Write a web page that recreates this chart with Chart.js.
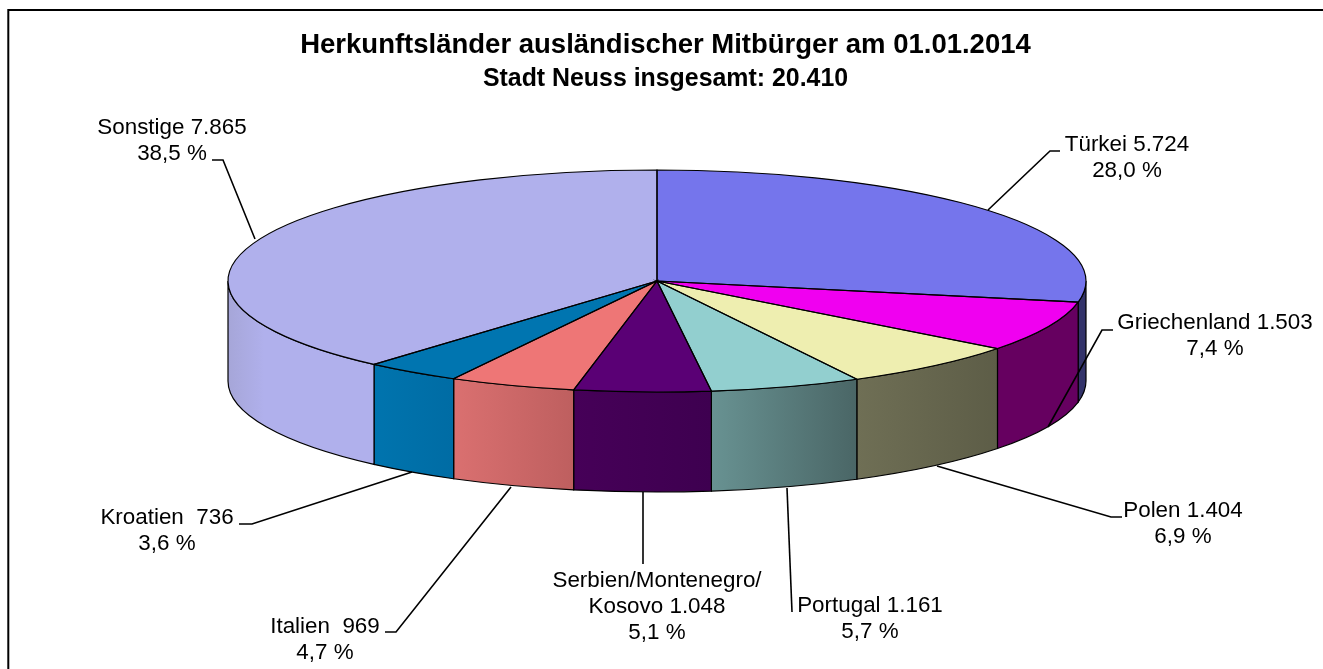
<!DOCTYPE html>
<html lang="de">
<head>
<meta charset="utf-8">
<title>Herkunftsländer</title>
<script src="https://cdn.jsdelivr.net/npm/chart.js@4"></script>
<style>
  html, body { margin: 0; background: #fff; overflow: hidden; }
  canvas { display: block; }
</style>
</head>
<body>
<canvas id="pie3d" width="1323" height="669"></canvas>
<script>
// --- DATA ---
const countries = ['Türkei', 'Griechenland', 'Polen', 'Portugal', 'Serbien/Montenegro/Kosovo', 'Italien', 'Kroatien', 'Sonstige'];
const residents = [5724, 1503, 1404, 1161, 1048, 969, 736, 7865];
const labelLines = [
  ['Türkei 5.724', '28,0 %'],
  ['Griechenland 1.503', '7,4 %'],
  ['Polen 1.404', '6,9 %'],
  ['Portugal 1.161', '5,7 %'],
  ['Serbien/Montenegro/', 'Kosovo 1.048', '5,1 %'],
  ['Italien  969', '4,7 %'],
  ['Kroatien  736', '3,6 %'],
  ['Sonstige 7.865', '38,5 %']
];
const chartTitle = 'Herkunftsländer ausländischer Mitbürger am 01.01.2014';
const chartSubtitle = 'Stadt Neuss insgesamt: 20.410';

// --- COLOURS ---
const topColors = ['#7575EC', '#F000F0', '#EEEEB0', '#92CFCF', '#5A0075', '#EE7676', '#0075B0', '#B0B0EC'];
const wallColors = [
  ['#33336A', '#33336A'],
  ['#660060', '#660060'],
  ['#6F6F55', '#5D5D47'],
  ['#689292', '#4A6666'],
  ['#460058', '#3E0050'],
  ['#DA7070', '#BE5F5F'],
  ['#0074AE', '#006CA4'],
  ['#A6A6D8', '#B0B0EC', '#B0B0EC', '#B0B0EC', '#B0B0EC']
];

// --- GEOMETRY OF THE TILTED PIE (screen pixels) ---
const pieX = 657;
const pieY = 281;
const pieRadius = 429;
const tilt = 111 / 429;
const wallHeight = 100;

// where the callouts sit: text centre x, first line y, leader polyline
const callouts = [
  { x: 1127, y: 145, line: [[988, 210], [1050, 151], [1060, 151]] },
  { x: 1215, y: 323, line: [[1048, 427], [1102, 330], [1113, 330]] },
  { x: 1183, y: 511, line: [[937, 466], [1111, 517], [1122, 517]] },
  { x: 870, y: 606, line: [[787, 488], [792, 612]] },
  { x: 657, y: 581, line: [[643, 492], [643, 564]] },
  { x: 325, y: 627, line: [[511, 487], [396, 632], [385, 632]] },
  { x: 167, y: 518, line: [[412, 472], [252, 524], [239, 524]] },
  { x: 172, y: 128, line: [[255, 239], [223, 160], [212, 160]] }
];

const tiltedPie = {
  id: 'tiltedPie',
  // the side walls go below the top face
  beforeDatasetsDraw(chart) {
    const ctx = chart.ctx;
    const ry = pieRadius * tilt;
    chart.getDatasetMeta(0).data.forEach((arc, i) => {
      const a1 = Math.max(arc.startAngle, 0);
      const a2 = Math.min(arc.endAngle, Math.PI);
      if (a2 <= a1) return;
      const x1 = pieX + pieRadius * Math.cos(a1);
      const x2 = pieX + pieRadius * Math.cos(a2);
      const grad = ctx.createLinearGradient(Math.min(x1, x2), 0, Math.max(x1, x2), 0);
      wallColors[i].forEach((c, n) => grad.addColorStop(n / (wallColors[i].length - 1), c));
      ctx.beginPath();
      ctx.ellipse(pieX, pieY, pieRadius, ry, 0, a1, a2);
      ctx.ellipse(pieX, pieY + wallHeight, pieRadius, ry, 0, a2, a1, true);
      ctx.closePath();
      ctx.fillStyle = grad;
      ctx.fill();
      ctx.strokeStyle = '#000';
      ctx.lineWidth = 1.2;
      ctx.stroke();
    });
  },
  // squash the library's round pie into the ellipse
  beforeDatasetDraw(chart, args) {
    const arc = args.meta.data[0];
    const ctx = chart.ctx;
    ctx.save();
    ctx.translate(pieX, pieY);
    ctx.scale(1, tilt);
    ctx.translate(-arc.x, -arc.y);
  },
  afterDatasetDraw(chart) {
    chart.ctx.restore();
  },
  afterDatasetsDraw(chart) {
    const ctx = chart.ctx;
    const ry = pieRadius * tilt;
    // thin outline, drawn untransformed so it keeps its width
    ctx.save();
    ctx.strokeStyle = '#000';
    ctx.lineWidth = 1.2;
    chart.getDatasetMeta(0).data.forEach(arc => {
      ctx.beginPath();
      ctx.moveTo(pieX, pieY);
      ctx.ellipse(pieX, pieY, pieRadius, ry, 0, arc.startAngle, arc.endAngle);
      ctx.closePath();
      ctx.stroke();
    });
    ctx.restore();

    // callouts
    ctx.save();
    ctx.strokeStyle = '#000';
    ctx.lineWidth = 1.6;
    ctx.fillStyle = '#000';
    ctx.font = '22.4px "Liberation Sans", Arial, sans-serif';
    ctx.textAlign = 'center';
    ctx.textBaseline = 'middle';
    callouts.forEach((c, i) => {
      ctx.beginPath();
      c.line.forEach((p, n) => n ? ctx.lineTo(p[0], p[1]) : ctx.moveTo(p[0], p[1]));
      ctx.stroke();
      labelLines[i].forEach((txt, n) => ctx.fillText(txt, c.x, c.y + n * 25.8));
    });
    ctx.restore();

    // frame: only the top and left edges are in the picture
    ctx.save();
    ctx.strokeStyle = '#000';
    ctx.lineWidth = 2;
    ctx.beginPath();
    ctx.moveTo(8.3, 669);
    ctx.lineTo(8.3, 10);
    ctx.lineTo(1323, 10);
    ctx.stroke();
    ctx.restore();
  }
};

new Chart(document.getElementById('pie3d'), {
  type: 'pie',
  data: {
    labels: countries,
    datasets: [{
      data: residents,
      backgroundColor: topColors,
      borderWidth: 0,
      clip: false
    }]
  },
  options: {
    responsive: false,
    animation: false,
    events: [],
    radius: pieRadius,
    layout: { padding: { left: 8 } },
    plugins: {
      legend: { display: false },
      tooltip: { enabled: false },
      title: {
        display: true,
        text: chartTitle,
        color: '#000',
        font: { family: '"Liberation Sans", Arial, sans-serif', size: 27.5, weight: 'bold', lineHeight: 1.2 },
        padding: { top: 29, bottom: 0 }
      },
      subtitle: {
        display: true,
        text: chartSubtitle,
        color: '#000',
        font: { family: '"Liberation Sans", Arial, sans-serif', size: 24.9, weight: 'bold', lineHeight: 1.2 },
        padding: { top: 2, bottom: 0 }
      }
    }
  },
  plugins: [tiltedPie]
});
</script>
</body>
</html>
